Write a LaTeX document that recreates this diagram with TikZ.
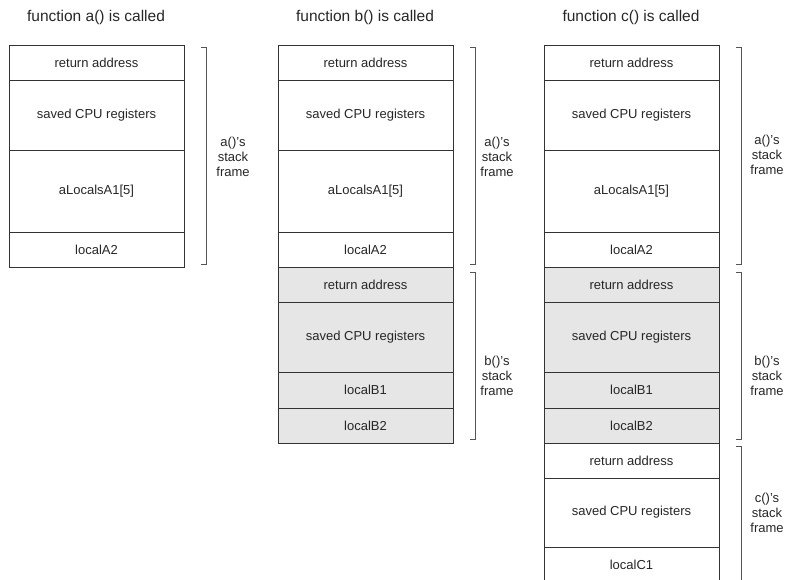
\documentclass[tikz,border=0pt]{standalone}
\usepackage{fontspec}
\setmainfont{Liberation Sans}
\usepackage{xcolor}
\usetikzlibrary{positioning}

\definecolor{boxline}{HTML}{333333}
\definecolor{brkline}{HTML}{555555}
\definecolor{framegray}{HTML}{E6E6E6}

\tikzset{
  cell/.style={draw=boxline, line width=0.8pt, minimum width=175pt, inner sep=0pt, outer sep=0pt, font=\fontsize{13}{15}\selectfont, text=black!85},
  bcell/.style={cell, fill=framegray},
  title/.style={font=\fontsize{15.5}{18}\selectfont, text=black!85},
  framelbl/.style={align=center, font=\fontsize{13}{15}\selectfont, text=black!85},
  brace/.style={draw=brkline, line width=0.8pt},
}

\begin{document}
\begin{tikzpicture}[x=1pt, y=-1pt, node distance=0pt]
  \clip (0,0) rectangle (786,580);
  % titles
  \node[title] (ta) at (96,17) {function a() is called};
  \node[title] (tb) at (365,17) {function b() is called};
  \node[title] (tc) at (631,17) {function c() is called};
  % a()'s frame, one in each column
  \foreach \c/\x in {1/9, 2/278, 3/544} {
    \node[cell, minimum height=35pt, anchor=north west] (a\c ret) at (\x,45) {return address};
    \node[cell, minimum height=70pt, below=of a\c ret] (a\c reg) {saved CPU registers};
    \node[cell, minimum height=82pt, below=of a\c reg] (a\c arr) {aLocalsA1[5]};
    \node[cell, minimum height=35pt, below=of a\c arr] (a\c loc) {localA2};
    \draw[brace] ([xshift=17pt,yshift=-2pt]a\c ret.north east) -- ++(5,0) |- ([xshift=17pt,yshift=3pt]a\c loc.south east);
  }
  % b()'s frame
  \foreach \c in {2,3} {
    \node[bcell, minimum height=35pt, below=of a\c loc] (b\c ret) {return address};
    \node[bcell, minimum height=70pt, below=of b\c ret] (b\c reg) {saved CPU registers};
    \node[bcell, minimum height=36pt, below=of b\c reg] (b\c lb1) {localB1};
    \node[bcell, minimum height=35pt, below=of b\c lb1] (b\c lb2) {localB2};
    \draw[brace] ([xshift=17pt,yshift=-5pt]b\c ret.north east) -- ++(5,0) |- ([xshift=17pt,yshift=4pt]b\c lb2.south east);
  }
  % c()'s frame
  \node[cell, minimum height=35pt, below=of b3lb2] (c3ret) {return address};
  \node[cell, minimum height=69pt, below=of c3ret] (c3reg) {saved CPU registers};
  \node[cell, minimum height=36pt, below=of c3reg] (c3lc1) {localC1};
  \draw[brace] ([xshift=17pt,yshift=-3pt]c3ret.north east) -- ++(5,0) |- ([xshift=17pt,yshift=-8pt]c3lc1.south east);
  % frame labels
  \node[framelbl] (a1lbl) at (233,157) {a()'s\\stack\\frame};
  \node[framelbl] (a2lbl) at (497,157) {a()'s\\stack\\frame};
  \node[framelbl] (b2lbl) at (497,376) {b()'s\\stack\\frame};
  \node[framelbl] (a3lbl) at (767,155) {a()'s\\stack\\frame};
  \node[framelbl] (b3lbl) at (767,376) {b()'s\\stack\\frame};
  \node[framelbl] (c3lbl) at (767,513) {c()'s\\stack\\frame};
\end{tikzpicture}
\end{document}
